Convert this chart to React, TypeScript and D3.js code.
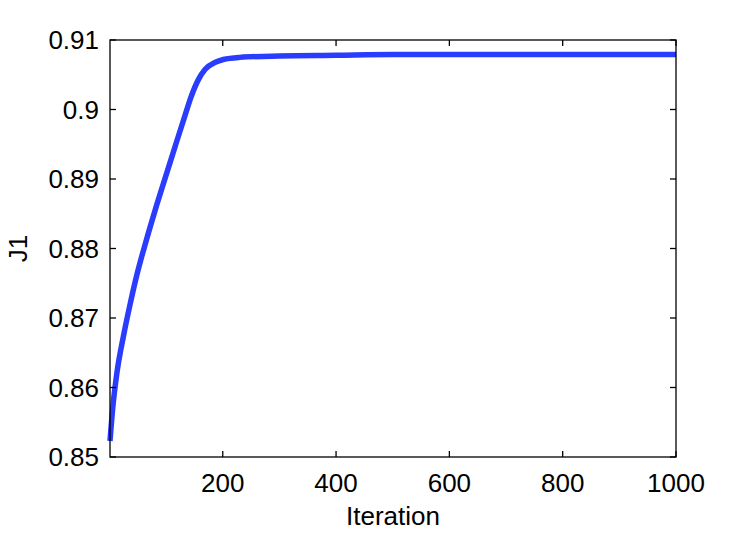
import { useEffect, useRef } from 'react';
import * as d3 from 'd3';

// iteration vs J1
const iterations = [1, 6, 13, 25, 36, 49, 62, 81, 99, 116, 134, 144, 157, 169, 187, 201, 230, 300, 400, 500, 600, 700, 800, 900, 1000];
const j1Values = [0.8523, 0.8572, 0.8620, 0.8675, 0.8718, 0.8764, 0.8803, 0.8856, 0.8903, 0.8947, 0.8993, 0.9018, 0.9043, 0.9058, 0.9068, 0.9072, 0.9075, 0.9077, 0.9078, 0.9079, 0.9079, 0.9079, 0.9079, 0.9079, 0.9079];
const xTicks = [200, 400, 600, 800, 1000];
const yTicks = [0.85, 0.86, 0.87, 0.88, 0.89, 0.9, 0.91];

export default function App() {
  const svgRef = useRef<SVGSVGElement>(null);

  useEffect(() => {
    const svg = d3.select(svgRef.current);
    svg.selectAll('*').remove();

    const width = 747;
    const height = 534;
    const margin = { top: 40, right: 71, bottom: 77, left: 110 };
    const font = 'Liberation Sans, Arial, Helvetica, sans-serif';

    const x = d3.scaleLinear().domain([1, 1000]).range([margin.left, width - margin.right]);
    const y = d3.scaleLinear().domain([0.85, 0.91]).range([height - margin.bottom, margin.top]);

    const data = iterations.map((it, i) => ({ it, v: j1Values[i] }));

    svg.append('rect')
      .attr('x', 0).attr('y', 0).attr('width', width).attr('height', height)
      .attr('fill', '#fff');

    const line = d3.line<{ it: number; v: number }>()
      .x((d) => x(d.it))
      .y((d) => y(d.v))
      .curve(d3.curveMonotoneX);

    svg.append('path')
      .datum(data)
      .attr('d', line)
      .attr('fill', 'none')
      .attr('stroke', '#2a3cfd')
      .attr('stroke-width', 5.5)
      .attr('stroke-linejoin', 'round');

    // box
    svg.append('rect')
      .attr('x', x(1)).attr('y', y(0.91))
      .attr('width', x(1000) - x(1)).attr('height', y(0.85) - y(0.91))
      .attr('fill', 'none').attr('stroke', '#000').attr('stroke-width', 1.3);

    const tl = 6;
    const axisG = svg.append('g').attr('stroke', '#000').attr('stroke-width', 1.3);
    xTicks.forEach((t) => {
      axisG.append('line').attr('x1', x(t)).attr('x2', x(t)).attr('y1', y(0.85)).attr('y2', y(0.85) - tl);
      axisG.append('line').attr('x1', x(t)).attr('x2', x(t)).attr('y1', y(0.91)).attr('y2', y(0.91) + tl);
    });
    yTicks.forEach((t) => {
      axisG.append('line').attr('x1', x(1)).attr('x2', x(1) + tl).attr('y1', y(t)).attr('y2', y(t));
      axisG.append('line').attr('x1', x(1000)).attr('x2', x(1000) - tl).attr('y1', y(t)).attr('y2', y(t));
    });

    svg.append('g')
      .selectAll('text')
      .data(xTicks)
      .join('text')
      .attr('x', (d) => x(d))
      .attr('y', y(0.85) + 35)
      .attr('text-anchor', 'middle')
      .attr('font-family', font)
      .attr('font-size', 26)
      .text((d) => d3.format('d')(d));

    svg.append('g')
      .selectAll('text')
      .data(yTicks)
      .join('text')
      .attr('x', x(1) - 11)
      .attr('y', (d) => y(d) + 9)
      .attr('text-anchor', 'end')
      .attr('font-family', font)
      .attr('font-size', 26)
      .text((d) => String(+d.toFixed(2)));

    svg.append('text')
      .attr('x', (x(1) + x(1000)) / 2)
      .attr('y', 525)
      .attr('text-anchor', 'middle')
      .attr('font-family', font)
      .attr('font-size', 26)
      .text('Iteration');

    svg.append('text')
      .attr('transform', `translate(27,${y(0.88)}) rotate(-90)`)
      .attr('text-anchor', 'middle')
      .attr('font-family', font)
      .attr('font-size', 26)
      .text('J1');
  }, []);

  return <svg ref={svgRef} width={747} height={534} style={{ display: 'block', margin: -8 }} />;
}
